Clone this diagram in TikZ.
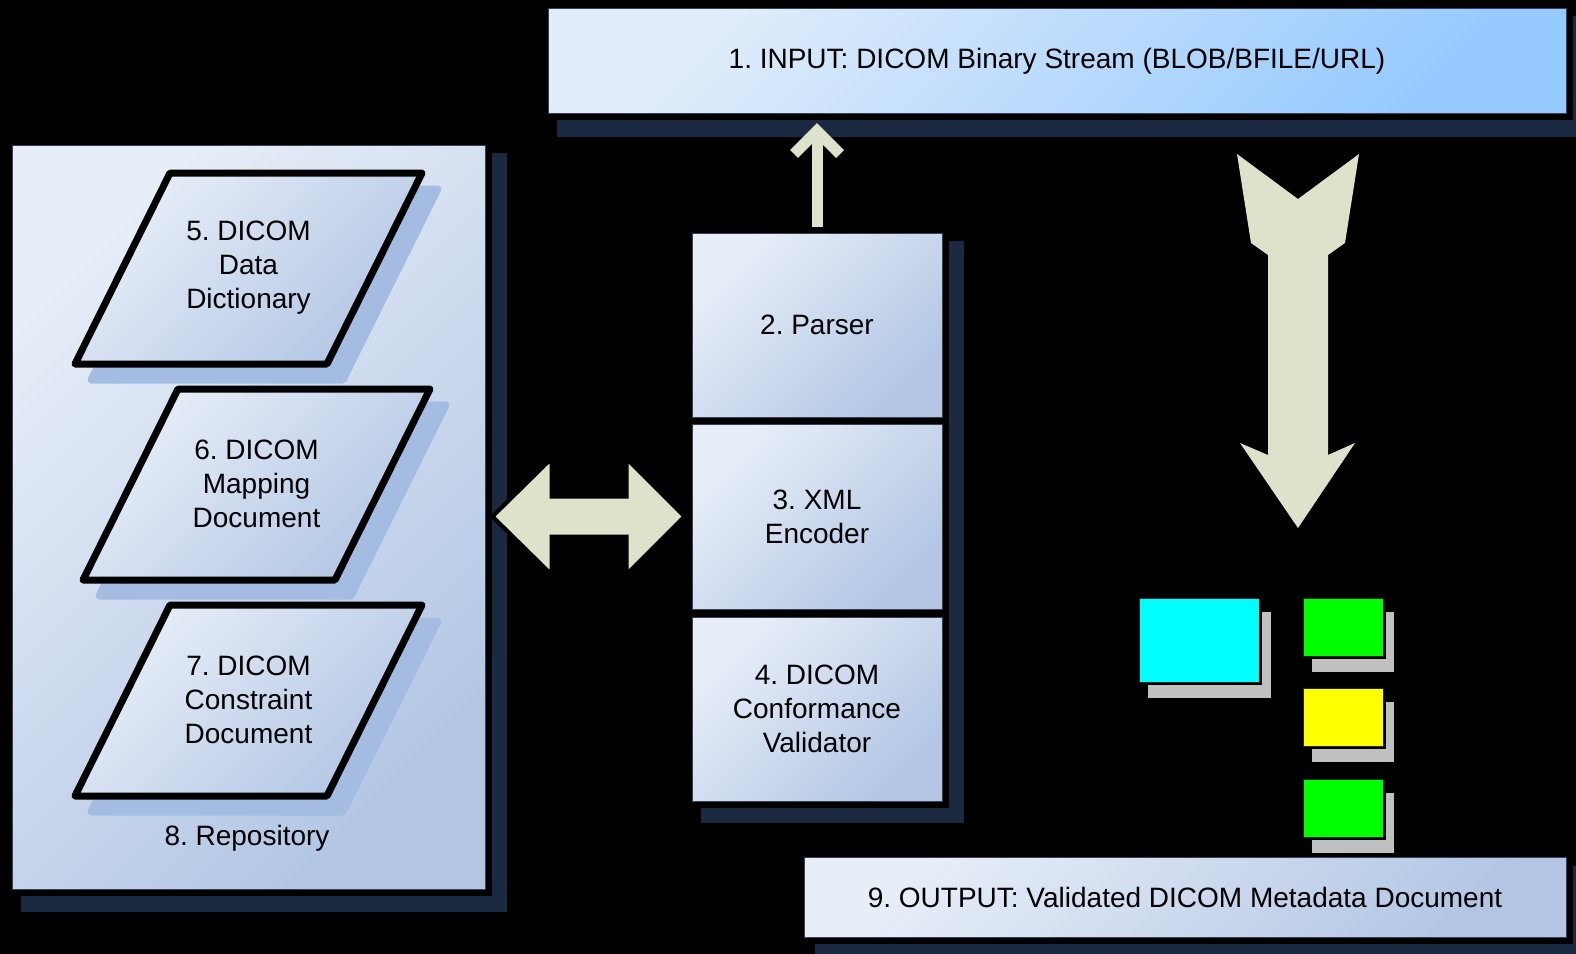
\documentclass[tikz,border=0pt]{standalone}
\usepackage{fontspec}
\setmainfont{Liberation Sans}
\usetikzlibrary{calc}
\definecolor{navyshadow}{RGB}{26,40,64}
\definecolor{pshadow}{RGB}{164,188,226}
\definecolor{sage}{RGB}{221,226,203}
\definecolor{greyshadow}{RGB}{192,192,192}
\definecolor{gl}{RGB}{232,238,248}
\definecolor{gm}{RGB}{198,213,236}
\definecolor{gd}{RGB}{178,198,228}
\definecolor{bl}{RGB}{226,237,250}
\definecolor{bm}{RGB}{178,214,253}
\definecolor{bd}{RGB}{150,202,255}
\definecolor{boxline}{RGB}{55,65,85}
\definecolor{purecyan}{RGB}{0,255,255}
\definecolor{puregreen}{RGB}{0,255,0}
\definecolor{pureyellow}{RGB}{255,255,0}
\newcommand\lblfont{\fontsize{14pt}{17pt}\selectfont}
\frenchspacing
\begin{document}
\begin{tikzpicture}[x=0.5pt,y=-0.5pt,
  box/.style={draw=boxline, line width=0.5pt, top color=gl, middle color=gm, bottom color=gd, shading angle=45,
              inner sep=0pt, align=center, font=\lblfont, text=black},
  inbox/.style={box, top color=bl, middle color=bm, bottom color=bd, shading angle=45},
  lbl/.style={inner sep=0pt, align=center, font=\lblfont, text=black},
  para/.style={draw=black, line width=3.5pt, line join=round, top color=gl, middle color=gm, bottom color=gd, shading angle=45},
  parashadow/.style={fill=pshadow, draw=pshadow, line width=3.5pt, line join=round},
  navy/.style={fill=navyshadow},
  halo/.style={fill=black},
  grey/.style={fill=greyshadow},
  swatch/.style={draw=black!85, line width=0.6pt, inner sep=0pt},
  blockarrow/.style={fill=sage, draw=black, line width=2pt, line join=miter},
  thinarrow/.style={draw=sage, line width=5.5pt}
]
\fill[black] (0,0) rectangle (1576,954);
\useasboundingbox (0,0) rectangle (1576,954);
\begin{scope}
\clip (0,0) rectangle (1576,954);

% ---------- shadows and halos ----------
\fill[navy] (557,16) rectangle (1590,137);
\fill[halo] (541,1) rectangle (1573,120);
\fill[navy] (21,153) rectangle (507,912);
\fill[halo] (5,138) rectangle (492,896);
\fill[navy] (701,241) rectangle (964,823);
\fill[halo] (685,226) rectangle (949,808);
\fill[navy] (815,866) rectangle (1590,960);
\fill[halo] (797,850) rectangle (1573,944);

% ---------- 1. input ----------
\node[inbox, minimum width=509pt, minimum height=52.5pt] (input) at (1057,61)
  {1. INPUT: DICOM Binary Stream (BLOB/BFILE/URL)};

% ---------- 8. repository ----------
\node[box, minimum width=236.5pt, minimum height=372pt] (repo) at (248.5,517) {};
\node[lbl] (repolabel) at (247,838) {8. Repository};

% parallelograms
\foreach \dx/\dy in {0/0, 8/216, 0/432}{
  \begin{scope}[shift={(\dx+16,\dy+16)}]
    \path[parashadow] (170,173) -- (422,173) -- (327,364) -- (75,364) -- cycle;
  \end{scope}
  \begin{scope}[shift={(\dx,\dy)}]
    \path[para] (170,173) -- (422,173) -- (327,364) -- (75,364) -- cycle;
  \end{scope}
}
\node[lbl] (dict) at (248.5,268) {5. DICOM\\Data\\Dictionary};
\node[lbl] (map) at (256.5,484) {6. DICOM\\Mapping\\Document};
\node[lbl] (cons) at (248.5,700) {7. DICOM\\Constraint\\Document};

% ---------- central stack ----------
\node[box, minimum width=125pt, minimum height=92pt] (parser) at (817,325) {2. Parser};
\node[box, minimum width=125pt, minimum height=92.5pt] (xml) at (817,516.5) {3. XML\\Encoder};
\node[box, minimum width=125pt, minimum height=92pt] (valid) at (817,709) {4. DICOM\\Conformance\\Validator};

% ---------- 9. output ----------
\node[box, minimum width=381pt, minimum height=40pt] (output) at (1185,897)
  {9. OUTPUT: Validated DICOM Metadata Document};

% ---------- colour swatches ----------
\fill[grey] (1148,612) rectangle (1271,698);
\fill[halo] (1136,595) rectangle (1262,685);
\node[swatch, fill=purecyan, minimum width=60pt, minimum height=42pt, anchor=north west] (cyanbox) at (1139,598) {};
\foreach \yy/\cc/\nm in {598/puregreen/greenA, 688/pureyellow/yellowB, 779/puregreen/greenC}{
  \fill[grey] (1312,\yy+14) rectangle (1394,\yy+74);
  \fill[halo] (1300,\yy-3) rectangle (1386,\yy+61);
  \node[swatch, fill=\cc, minimum width=40pt, minimum height=29pt, anchor=north west] (\nm) at (1303,\yy) {};
}

% ---------- connectors ----------
% parser -> input (thin arrow with chevron head)
\coordinate (uptip) at ($(parser.north |- input.south)+(0,17)$);
\draw[thinarrow] ($(parser.north)+(0,-6)$) -- ($(uptip)+(0,3)$);
\draw[thinarrow, line join=miter] ($(uptip)+(-23,23)$) -- (uptip) -- ($(uptip)+(23,23)$);

% repository <-> encoder (double block arrow)
\coordinate (dl) at ($(repo.east |- xml.west)+(7,0)$);
\coordinate (dr) at ($(xml.west)+(-7,0)$);
\path[blockarrow] (dl) -- ($(dl)+(59,-58)$) -- ($(dl)+(59,-20)$) -- ($(dr)+(-58,-20)$)
  -- ($(dr)+(-58,-58)$) -- (dr) -- ($(dr)+(-58,58)$) -- ($(dr)+(-58,20)$)
  -- ($(dl)+(59,20)$) -- ($(dl)+(59,58)$) -- cycle;

% input -> output (large down block arrow)
\fill[sage] (1237,154) -- (1298,199) -- (1359,154) -- (1345,243) -- (1328,255)
  -- (1328,455) -- (1355,443) -- (1298,528) -- (1240,443) -- (1268,455)
  -- (1268,255) -- (1251,243) -- cycle;
\end{scope}
\end{tikzpicture}
\end{document}
